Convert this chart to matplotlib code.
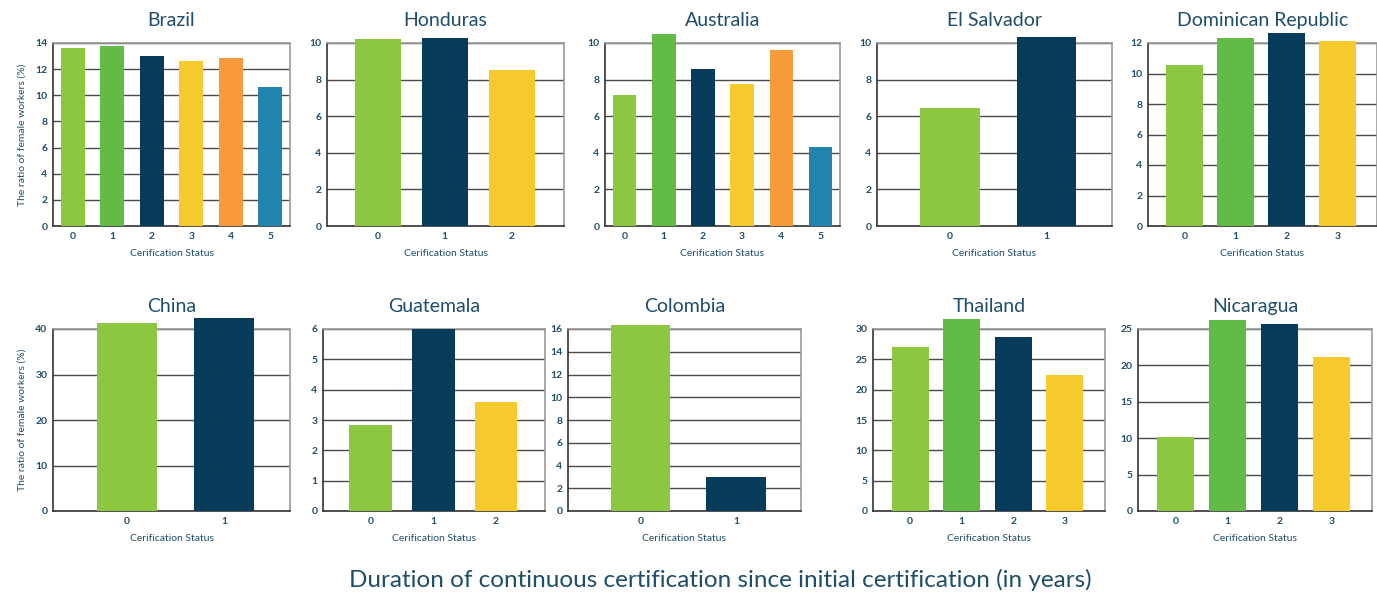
import matplotlib.pyplot as plt

plt.rcParams['font.family'] = ['Lato', 'DejaVu Sans']

# colours by bar slot
light_green = "#8dc63f"
green = "#62bb46"
navy = "#073b5a"
yellow = "#f6c92c"
orange = "#f79b3a"
blue = "#2283ad"
text_col = "#1f4d6b"

countries = ["Brazil", "Honduras", "Australia", "El Salvador", "Dominican Republic",
             "China", "Guatemala", "Colombia", "Thailand", "Nicaragua"]

brazil = [13.65, 13.8, 13.0, 12.65, 12.85, 10.65]
honduras = [10.2, 10.3, 8.55]
australia = [7.15, 10.5, 8.6, 7.75, 9.6, 4.3]
el_salvador = [6.45, 10.35]
dominican = [10.55, 12.3, 12.65, 12.1]
china = [41.3, 42.4]
guatemala = [2.85, 6.0, 3.6]
colombia = [16.35, 2.95]
thailand = [27.0, 31.6, 28.7, 22.4]
nicaragua = [10.1, 26.3, 25.7, 21.2]

values = [brazil, honduras, australia, el_salvador, dominican,
          china, guatemala, colombia, thailand, nicaragua]
ymax = [14, 10, 10, 10, 12, 40, 6, 16, 30, 25]
ystep = [2, 2, 2, 2, 2, 10, 1, 2, 5, 5]

colors6 = [light_green, green, navy, yellow, orange, blue]
colors4 = [light_green, green, navy, yellow]
colors3 = [light_green, navy, yellow]
colors2 = [light_green, navy]

# axes boxes in pixels: left, right, top, bottom
boxes = [(53, 290, 43, 226), (327, 564, 43, 226), (605, 840, 43, 226),
         (877, 1112, 43, 226), (1148, 1377, 43, 226),
         (53, 290, 329, 511), (323, 545, 329, 511), (568, 801, 329, 511),
         (873, 1105, 329, 511), (1138, 1372, 329, 511)]

W, H = 1377, 593
fig = plt.figure(figsize=(W / 100, H / 100), dpi=100)

for i, name in enumerate(countries):
    l, r, t, b = boxes[i]
    ax = fig.add_axes([l / W, 1 - b / H, (r - l) / W, (b - t) / H])
    vals = values[i]
    n = len(vals)
    if n == 6:
        cols, width, xl = colors6, 0.6, (-0.5, 5.5)
    elif n == 4:
        cols, width, xl = colors4, 0.72, (-0.72, 3.78)
    elif n == 3:
        cols, width, xl = colors3, 0.68, (-0.76, 2.78)
    else:
        cols, width, xl = colors2, 0.62, (-0.76, 1.68)
    x = list(range(n))
    ax.bar(x, vals, width=width, color=cols, zorder=3, clip_on=False)
    ax.set_xlim(*xl)
    ax.set_ylim(0, ymax[i])
    ax.set_yticks(range(0, ymax[i] + 1, ystep[i]))
    ax.set_xticks(x)
    ax.yaxis.grid(True, color="#4a4a4a", linewidth=1.0, zorder=0)
    ax.set_axisbelow(True)
    for s in ["top", "right"]:
        ax.spines[s].set_color("#9a9a9a")
        ax.spines[s].set_linewidth(1.2)
    for s in ["left", "bottom"]:
        ax.spines[s].set_color("#333333")
        ax.spines[s].set_linewidth(1.2)
    ax.tick_params(length=0, pad=4, labelsize=7.5, labelcolor=text_col)
    for lab in ax.get_xticklabels() + ax.get_yticklabels():
        lab.set_fontweight("bold")
    ax.set_title(name, fontsize=14, color=text_col, pad=12)
    ax.set_xlabel("Cerification Status", fontsize=7.5, color=text_col, labelpad=6)
    if i % 5 == 0:
        ax.set_ylabel("The ratio of female workers (%)", fontsize=7.5, color=text_col, labelpad=6)

fig.text(720 / W, 1 - 580 / H, "Duration of continuous certification since initial certification (in years)",
         ha="center", va="center", fontsize=17.5, color=text_col)

fig.savefig("out.png", dpi=100)
